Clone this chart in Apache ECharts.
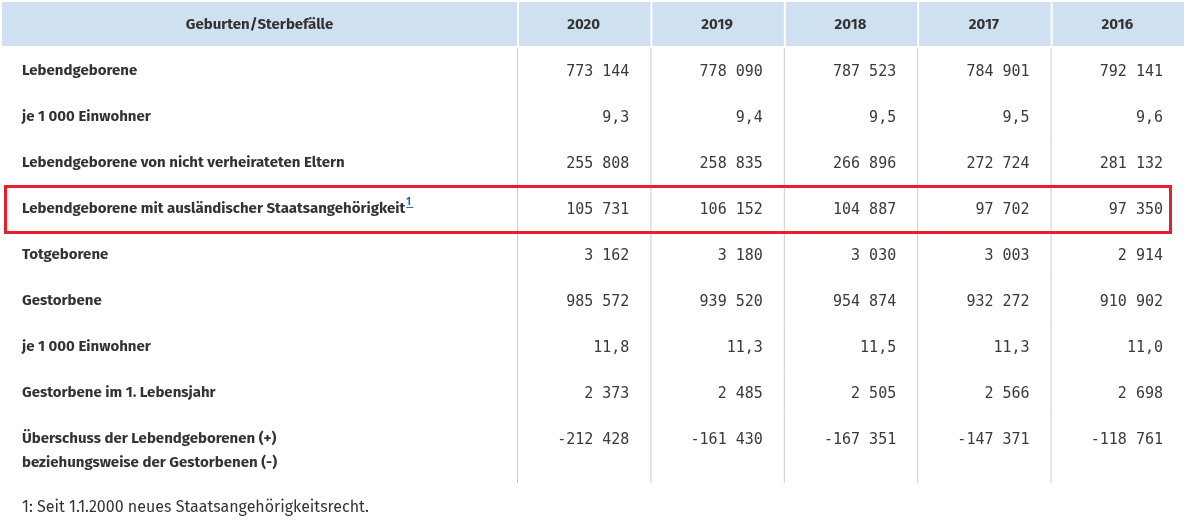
<!DOCTYPE html>
<html>
<head>
<meta charset="utf-8">
<script src="https://cdn.jsdelivr.net/npm/echarts@6/dist/echarts.min.js"></script>
<style>
  html, body { margin: 0; padding: 0; background: #fff; }
  #chart { width: 1187px; height: 528px; }
</style>
</head>
<body>
<div id="chart"></div>
<script>
// table content
const headLabel = 'Geburten/Sterbefälle';
const years = ['2020', '2019', '2018', '2017', '2016'];
const rowLabels = [
  'Lebendgeborene',
  'je 1 000 Einwohner',
  'Lebendgeborene von nicht verheirateten Eltern',
  'Lebendgeborene mit ausländischer Staatsangehörigkeit',
  'Totgeborene',
  'Gestorbene',
  'je 1 000 Einwohner',
  'Gestorbene im 1. Lebensjahr',
  'Überschuss der Lebendgeborenen (+)\nbeziehungsweise der Gestorbenen (-)'
];
const v2020 = [773144, 9.3, 255808, 105731, 3162, 985572, 11.8, 2373, -212428];
const v2019 = [778090, 9.4, 258835, 106152, 3180, 939520, 11.3, 2485, -161430];
const v2018 = [787523, 9.5, 266896, 104887, 3030, 954874, 11.5, 2505, -167351];
const v2017 = [784901, 9.5, 272724, 97702, 3003, 932272, 11.3, 2566, -147371];
const v2016 = [792141, 9.6, 281132, 97350, 2914, 910902, 11.0, 2698, -118761];
const rateRows = [1, 6];
const footnoteRow = 3;
const highlightRow = 3;
const footnote = '1: Seit 1.1.2000 neues Staatsangehörigkeitsrecht.';

const yearValues = [v2020, v2019, v2018, v2017, v2016];
const Y_MAX = 9.46;   // last row is a bit taller
const HEAD_BG = '#cfe0f0';
const TXT = '#333333';
const LINK = '#2c62a8';
const LABEL_FONT = '"Fira Sans", "Noto Sans", sans-serif';
const NUM_FONT = '"DejaVu Sans Mono", monospace';
const LABEL_SIZE = 15;

function fmt(v, row) {
  if (rateRows.indexOf(row) >= 0) return v.toFixed(1).replace('.', ',');
  const s = String(Math.abs(v)).replace(/\B(?=(\d{3})+(?!\d))/g, ' ');
  return (v < 0 ? '-' : '') + s;
}

// width of a bold label, for placing the footnote mark
const measureCtx = document.createElement('canvas').getContext('2d');
function labelWidth(text) {
  measureCtx.font = 'bold ' + LABEL_SIZE + 'px ' + LABEL_FONT;
  return measureCtx.measureText(text).width;
}

function rowBox(api, col, row) {
  const top = api.coord([col, row])[1];
  const bottom = api.coord([col, row === rowLabels.length - 1 ? Y_MAX : row + 1])[1];
  const cx = api.coord([col, row])[0];
  const w = api.size([1, 0])[0];
  return { top, bottom, cx, w };
}

const labelData = rowLabels.map((t, i) => [0, i]);
const cellData = [];
yearValues.forEach((arr, c) => arr.forEach((v, r) => cellData.push([c, r, v])));

const chart = echarts.init(document.getElementById('chart'));
chart.setOption({
  animation: false,
  title: {
    text: footnote, left: 22, top: 500, padding: 0,
    textStyle: { fontFamily: LABEL_FONT, fontSize: 16, fontWeight: 'normal', color: TXT }
  },
  grid: [
    { left: 2, top: 2, width: 515, height: 481 },
    { left: 517, top: 2, width: 667, height: 481 }
  ],
  xAxis: [
    { type: 'category', gridIndex: 0, data: [headLabel], show: false },
    { type: 'category', gridIndex: 1, data: years, show: false }
  ],
  yAxis: [
    { type: 'value', gridIndex: 0, inverse: true, min: -1, max: Y_MAX, show: false },
    { type: 'value', gridIndex: 1, inverse: true, min: -1, max: Y_MAX, show: false }
  ],
  series: [
    {
      // header, first column
      type: 'custom', xAxisIndex: 0, yAxisIndex: 0, data: [[0, -1]],
      renderItem: function (params, api) {
        const top = api.coord([0, -1])[1], bottom = api.coord([0, 0])[1];
        const cx = api.coord([0, -1])[0], w = api.size([1, 0])[0];
        return { type: 'group', children: [
          { type: 'rect', shape: { x: cx - w / 2, y: top, width: w, height: bottom - top - 2 }, style: { fill: HEAD_BG } },
          { type: 'text', style: { x: cx, y: (top + bottom) / 2, text: headLabel, align: 'center', verticalAlign: 'middle',
            fontFamily: LABEL_FONT, fontWeight: 'bold', fontSize: LABEL_SIZE, fill: TXT } }
        ] };
      }
    },
    {
      // header, year columns
      type: 'custom', xAxisIndex: 1, yAxisIndex: 1, data: years.map((y, i) => [i, -1]),
      renderItem: function (params, api) {
        const col = api.value(0);
        const top = api.coord([col, -1])[1], bottom = api.coord([col, 0])[1];
        const cx = api.coord([col, -1])[0], w = api.size([1, 0])[0];
        return { type: 'group', children: [
          { type: 'rect', shape: { x: cx - w / 2 + 2, y: top, width: w - 2, height: bottom - top - 2 }, style: { fill: HEAD_BG } },
          { type: 'text', style: { x: cx, y: (top + bottom) / 2, text: years[col], align: 'center', verticalAlign: 'middle',
            fontFamily: LABEL_FONT, fontWeight: 'bold', fontSize: LABEL_SIZE, fill: TXT } }
        ] };
      }
    },
    {
      // row labels
      type: 'custom', xAxisIndex: 0, yAxisIndex: 0, data: labelData,
      renderItem: function (params, api) {
        const row = api.value(1);
        const b = rowBox(api, 0, row);
        const x = b.cx - b.w / 2 + 20;
        const yc = api.coord([0, row + 0.5])[1];
        const multi = rowLabels[row].indexOf('\n') >= 0;
        const children = [{ type: 'text', style: {
          x: x, y: multi ? yc - 12 : yc, text: rowLabels[row],
          align: 'left', verticalAlign: multi ? 'top' : 'middle',
          fontFamily: LABEL_FONT, fontWeight: 'bold', fontSize: LABEL_SIZE, fill: TXT, lineHeight: 24
        } }];
        if (row === footnoteRow) {
          const sx = x + labelWidth(rowLabels[row]) + 1;
          children.push(
            { type: 'text', style: { x: sx, y: yc - 2, text: '1', align: 'left', verticalAlign: 'bottom',
              fontFamily: LABEL_FONT, fontWeight: 'bold', fontSize: 10, fill: LINK } },
            { type: 'line', shape: { x1: sx, y1: yc - 1.5, x2: sx + 7, y2: yc - 1.5 }, style: { stroke: LINK, lineWidth: 1 } }
          );
        }
        return { type: 'group', children: children };
      }
    },
    {
      // values
      type: 'custom', xAxisIndex: 1, yAxisIndex: 1, data: cellData,
      renderItem: function (params, api) {
        const col = api.value(0), row = api.value(1), v = api.value(2);
        const b = rowBox(api, col, row);
        const left = b.cx - b.w / 2;
        const yc = api.coord([col, row + 0.5])[1];
        return { type: 'group', children: [
          { type: 'line', shape: { x1: left + 0.5, y1: b.top, x2: left + 0.5, y2: b.bottom }, style: { stroke: '#cccccc', lineWidth: 1 } },
          { type: 'text', style: { x: left + b.w - 21, y: yc + 1, text: fmt(v, row), align: 'right', verticalAlign: 'middle',
            fontFamily: NUM_FONT, fontSize: 15, fill: '#3a3a3a' } }
        ] };
      }
    }
  ]
});

// red frame round the highlighted row
const yTop = chart.convertToPixel({ gridIndex: 0 }, [0, highlightRow])[1];
const yBot = chart.convertToPixel({ gridIndex: 0 }, [0, highlightRow + 1])[1];
chart.setOption({
  graphic: [{
    type: 'rect', left: 3, top: yTop - 2,
    shape: { width: 1165, height: yBot - yTop },
    style: { fill: 'none', stroke: '#e3202b', lineWidth: 3 },
    z: 100
  }]
});
</script>
</body>
</html>
